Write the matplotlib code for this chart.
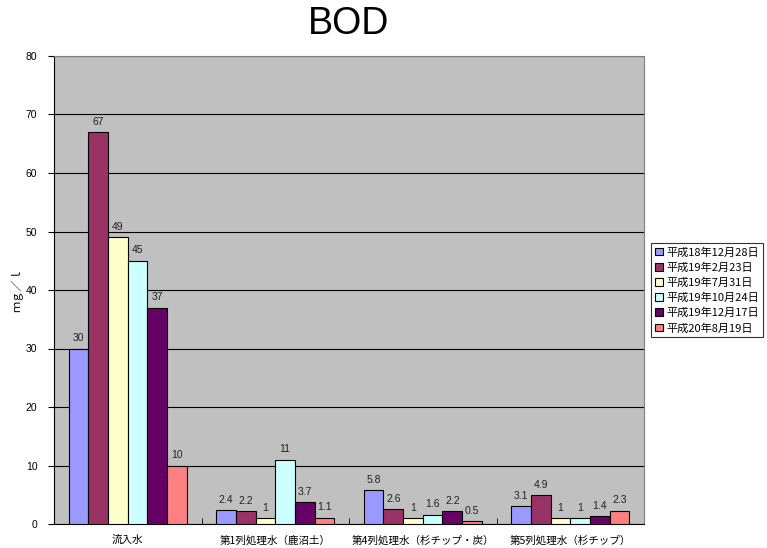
import matplotlib
matplotlib.use("Agg")
import matplotlib.pyplot as plt
import numpy as np

plt.rcParams['font.family'] = ['Noto Sans CJK JP', 'DejaVu Sans']

categories = ["流入水", "第1列処理水（鹿沼土）", "第4列処理水（杉チップ・炭）", "第5列処理水（杉チップ）"]
series_names = ["平成18年12月28日", "平成19年2月23日", "平成19年7月31日",
                "平成19年10月24日", "平成19年12月17日", "平成20年8月19日"]
values = [
    [30, 2.4, 5.8, 3.1],
    [67, 2.2, 2.6, 4.9],
    [49, 1, 1, 1],
    [45, 11, 1.6, 1],
    [37, 3.7, 2.2, 1.4],
    [10, 1.1, 0.5, 2.3],
]
labels = [
    ["30", "2.4", "5.8", "3.1"],
    ["67", "2.2", "2.6", "4.9"],
    ["49", "1", "1", "1"],
    ["45", "11", "1.6", "1"],
    ["37", "3.7", "2.2", "1.4"],
    ["10", "1.1", "0.5", "2.3"],
]
colors = ["#9999FF", "#993366", "#FFFFCC", "#CCFFFF", "#660066", "#FF8080"]
yticks = [0, 10, 20, 30, 40, 50, 60, 70, 80]

fig = plt.figure(figsize=(7.67, 5.48), dpi=100)
ax = fig.add_axes([54 / 767, 1 - 524 / 548, 590 / 767, 468 / 548])
ax.set_facecolor("#C0C0C0")

n = len(series_names)
bar_w = 0.8 / n
x = np.arange(len(categories))
for i in range(n):
    pos = x - 0.4 + bar_w * (i + 0.5)
    ax.bar(pos, values[i], width=bar_w, color=colors[i], edgecolor="black",
           linewidth=0.8, label=series_names[i], zorder=3)
    for p, v, t in zip(pos, values[i], labels[i]):
        ax.text(p, v + 0.9, t, ha="center", va="bottom", fontsize=7.5,
                family=['Liberation Sans', 'DejaVu Sans'], color="#222222", zorder=4)

ax.set_xlim(-0.5, len(categories) - 0.5)
ax.set_ylim(0, 80)
ax.set_yticks(yticks)
ax.set_yticklabels([str(t) for t in yticks], fontsize=7.5,
                   family=['Liberation Sans', 'DejaVu Sans'])
ax.yaxis.grid(True, color="black", linewidth=0.8, zorder=1)
ax.set_axisbelow(True)

ax.set_xticks(x)
ax.set_xticklabels(categories, fontsize=7.6)
ax.set_xticks(np.arange(len(categories) + 1) - 0.5, minor=True)
ax.tick_params(axis="x", which="major", length=0, pad=8)
ax.tick_params(axis="x", which="minor", length=4, direction="in", color="black")
ax.tick_params(axis="y", length=4, direction="out", pad=8)

for side in ["top", "right"]:
    ax.spines[side].set_color("#808080")
for side in ["left", "bottom"]:
    ax.spines[side].set_color("black")

ax.set_ylabel("ｍｇ／ｌ", fontsize=8)
ax.yaxis.set_label_coords(-31 / 590, 40 / 80)

fig.text(349 / 767, 1 - 24 / 548, "BOD", ha="center", va="center", fontsize=27,
         family=['Liberation Sans', 'DejaVu Sans'])

leg = ax.legend(loc="upper left", bbox_to_anchor=(651 / 767, 1 - 243 / 548),
                bbox_transform=fig.transFigure, fontsize=8, frameon=True,
                fancybox=False, edgecolor="black", handlelength=0.7, handleheight=0.7,
                handletextpad=0.3, labelspacing=0.42, borderpad=0.35, borderaxespad=0)
leg.get_frame().set_linewidth(0.8)

fig.savefig("out.png", dpi=100, facecolor="white")
